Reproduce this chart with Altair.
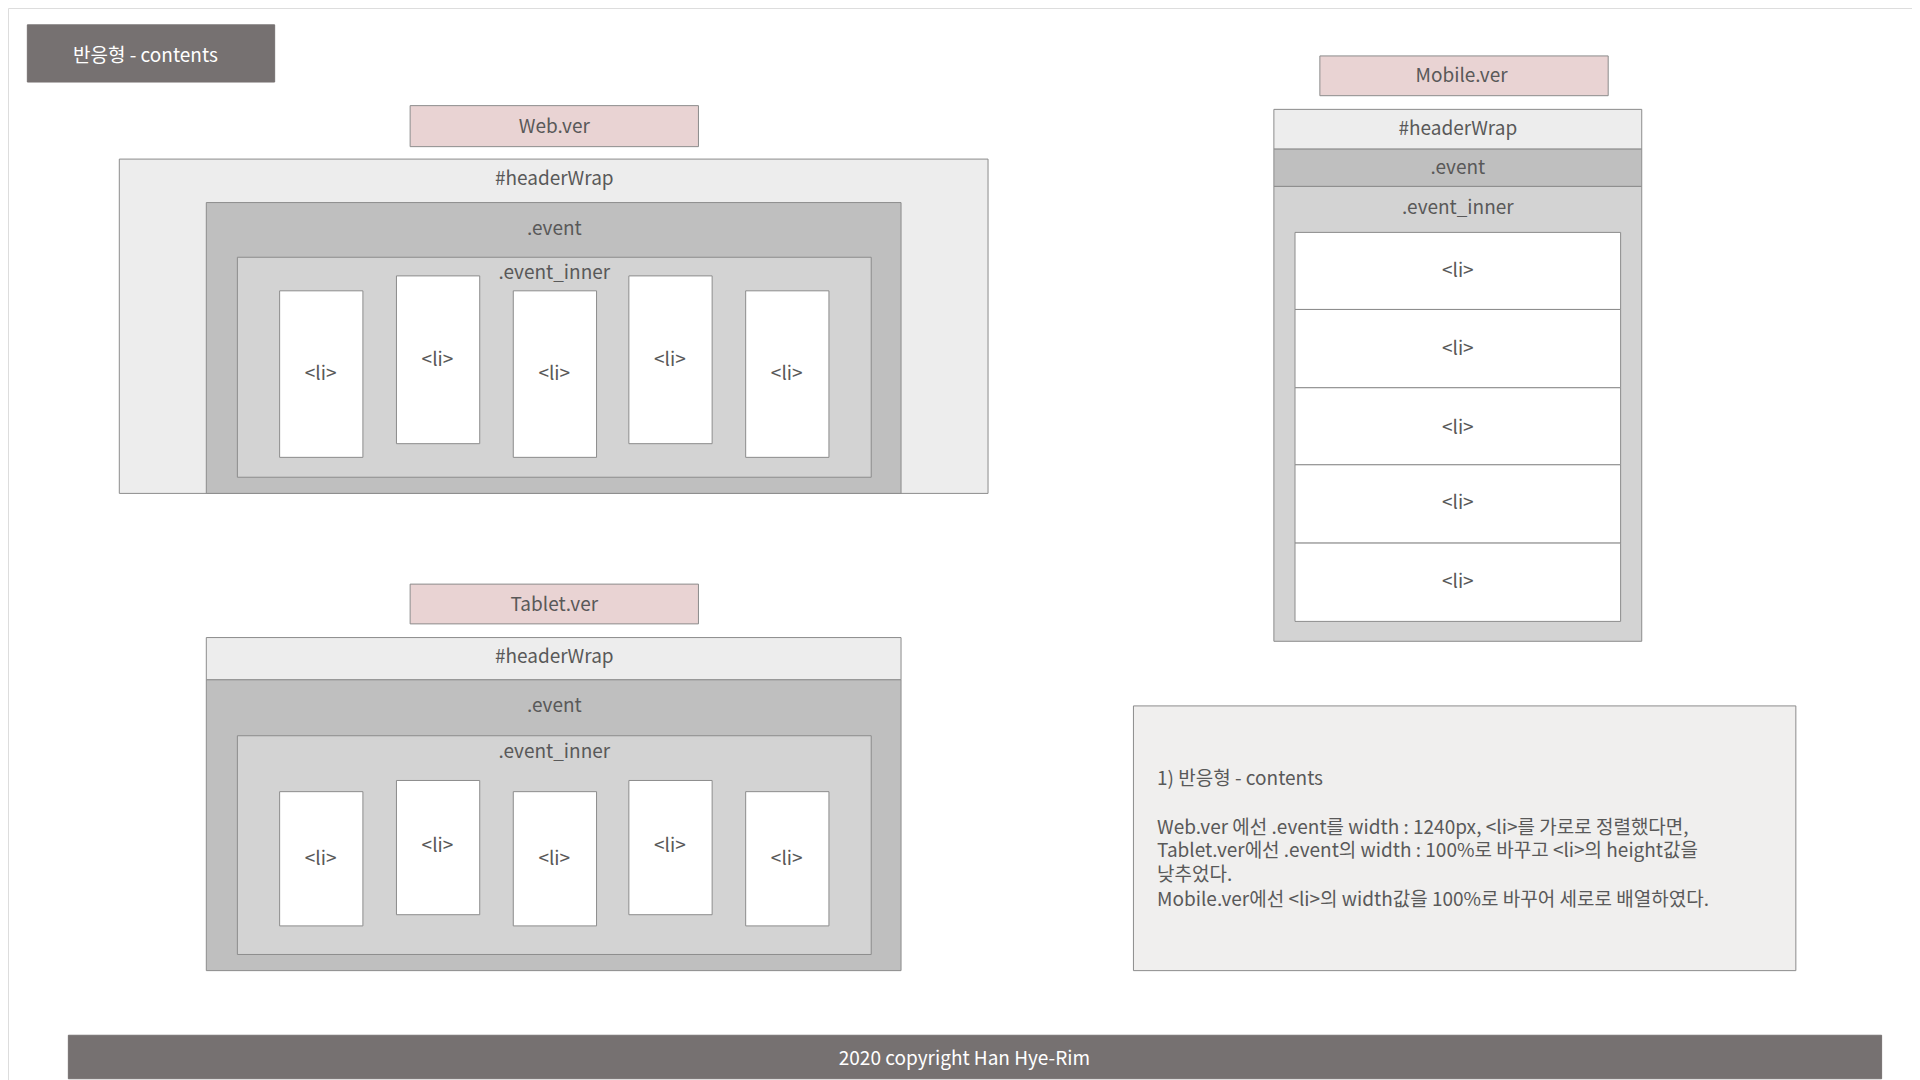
import altair as alt
import pandas as pd

# scale from reference picture coords to screen pixels
S = 1080 / 869
W, H = 1904, 1072

# boxes: x, y, x2, y2, fill, stroke
box_x = [22, 330, 96, 166, 191, 225, 319, 413, 506, 600,
         330, 166, 166, 191, 225, 319, 413, 506, 600,
         1062, 1025, 1025, 1025, 1042, 1042, 1042, 1042, 1042,
         912, 55]
box_y = [20, 85, 128, 163, 207, 234, 222, 234, 222, 234,
         470, 513, 547, 592, 637, 628, 637, 628, 637,
         45, 88, 120, 150, 187, 249, 312, 374, 437,
         568, 833]
box_x2 = [221, 562, 795, 725, 701, 292, 386, 480, 573, 667,
          562, 725, 725, 701, 292, 386, 480, 573, 667,
          1294, 1321, 1321, 1321, 1304, 1304, 1304, 1304, 1304,
          1445, 1514]
box_y2 = [66, 118, 397, 397, 384, 368, 357, 368, 357, 368,
          502, 547, 781, 768, 745, 736, 745, 736, 745,
          77, 120, 150, 516, 249, 312, 374, 437, 500,
          781, 868]
box_fill = ["#767171", "#E9D3D3", "#EDEDED", "#BFBFBF", "#D3D3D3"] + ["#FFFFFF"] * 5 + \
           ["#E9D3D3", "#EDEDED", "#BFBFBF", "#D3D3D3"] + ["#FFFFFF"] * 5 + \
           ["#E9D3D3", "#EDEDED", "#BFBFBF", "#D3D3D3"] + ["#FFFFFF"] * 5 + \
           ["#F0EFEE", "#767171"]
box_stroke = ["#767171"] + ["#8C8C8C"] * 28 + ["#767171"]

# centred labels
lab_text = ["반응형 - contents", "Web.ver", "#headerWrap", ".event", ".event_inner",
            "<li>", "<li>", "<li>", "<li>", "<li>",
            "Tablet.ver", "#headerWrap", ".event", ".event_inner",
            "<li>", "<li>", "<li>", "<li>", "<li>",
            "Mobile.ver", "#headerWrap", ".event", ".event_inner",
            "<li>", "<li>", "<li>", "<li>", "<li>",
            "2020 copyright Han Hye-Rim"]
lab_x = [117, 446, 446, 446, 446, 258, 352, 446, 539, 633,
         446, 446, 446, 446, 258, 352, 446, 539, 633,
         1176, 1173, 1173, 1173, 1173, 1173, 1173, 1173, 1173,
         776]
lab_y = [45, 102, 144, 184, 220, 301, 290, 301, 290, 301,
         487, 529, 568, 605, 691, 681, 691, 681, 691,
         61, 104, 135, 167, 218, 281, 344, 405, 468,
         852]
lab_color = ["#FFFFFF"] + ["#595959"] * 27 + ["#FFFFFF"]

# note lines
note_text = [
    "1) 반응형 - contents",
    "Web.ver 에선 .event를 width : 1240px, <li>를 가로로 정렬했다면,",
    "Tablet.ver에선 .event의 width : 100%로 바꾸고 <li>의 height값을",
    "낮추었다.",
    "Mobile.ver에선 <li>의 width값을 100%로 바꾸어 세로로 배열하였다.",
]
note_y = [627, 666, 685, 704, 724]
note_x = 931

x0, x1 = 8 / S, (8 + W) / S
y0, y1 = 8 / S, (8 + H) / S
xs = alt.Scale(domain=[x0, x1], nice=False, zero=False)
ys = alt.Scale(domain=[y1, y0], nice=False, zero=False)
FONT = "Noto Sans CJK KR"

boxes = pd.DataFrame({"x": box_x, "y": box_y, "x2": box_x2, "y2": box_y2,
                      "fill": box_fill, "stroke": box_stroke})
labels = pd.DataFrame({"t": lab_text, "x": lab_x, "y": lab_y, "c": lab_color})
notes = pd.DataFrame({"t": note_text, "x": [note_x] * 5, "y": note_y})

rects = alt.Chart(boxes).mark_rect(strokeWidth=1).encode(
    x=alt.X("x:Q", scale=xs, axis=None), x2="x2",
    y=alt.Y("y:Q", scale=ys, axis=None), y2="y2",
    fill=alt.Fill("fill:N", scale=None),
    stroke=alt.Stroke("stroke:N", scale=None),
)
texts = alt.Chart(labels).mark_text(font=FONT, fontSize=19, align="center", baseline="middle").encode(
    x=alt.X("x:Q", scale=xs, axis=None),
    y=alt.Y("y:Q", scale=ys, axis=None),
    text="t:N",
    color=alt.Color("c:N", scale=None),
)
note = alt.Chart(notes).mark_text(font=FONT, fontSize=19, align="left", baseline="middle",
                                  color="#595959").encode(
    x=alt.X("x:Q", scale=xs, axis=None),
    y=alt.Y("y:Q", scale=ys, axis=None),
    text="t:N",
)

chart = alt.layer(rects, texts, note).properties(
    width=W, height=H, padding=0, autosize=alt.AutoSizeParams(type="none")
).configure_view(stroke=None).configure(background="#FFFFFF")

chart.save("out.html", embed_options={"renderer": "svg", "actions": False})
